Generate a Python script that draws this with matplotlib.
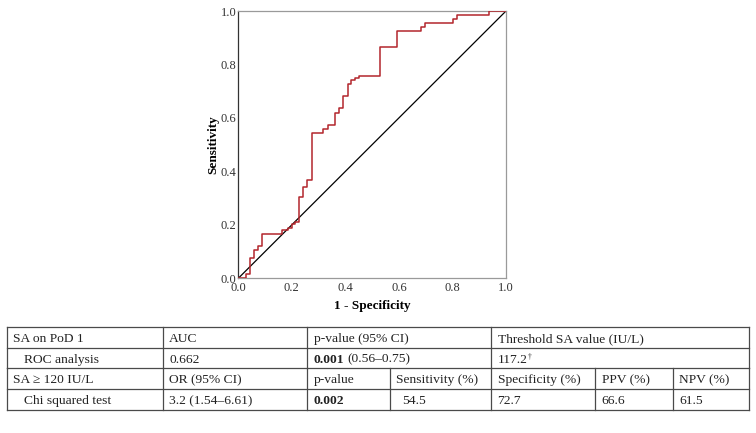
#!/usr/bin/env python3

import matplotlib
matplotlib.rcParams.update(
    {
        "backend" : "Agg",
        "font.family" : ["Liberation Serif", "DejaVu Serif"],
    }
)
import matplotlib.pyplot

# ROC curve corners (1 - specificity, sensitivity), drawn as a post step ...
fpr = [0.0, 0.029, 0.044, 0.059, 0.073, 0.088, 0.164, 0.187, 0.200, 0.212,
       0.227, 0.242, 0.256, 0.274, 0.318, 0.336, 0.362, 0.377, 0.392, 0.408,
       0.422, 0.437, 0.452, 0.530, 0.592, 0.681, 0.697, 0.803, 0.818, 0.938,
       1.0]
tpr = [0.0, 0.015, 0.075, 0.106, 0.121, 0.167, 0.181, 0.190, 0.202, 0.212,
       0.305, 0.340, 0.366, 0.545, 0.560, 0.575, 0.620, 0.636, 0.681, 0.726,
       0.741, 0.749, 0.757, 0.864, 0.924, 0.939, 0.954, 0.970, 0.985, 1.000,
       1.0]
ticks = [0.0, 0.2, 0.4, 0.6, 0.8, 1.0]

# Table contents ...
row1 = ["SA on PoD 1", "AUC", "p-value (95% CI)", "Threshold SA value (IU/L)"]
row2 = ["ROC analysis", "0.662", ("0.001", "(0.56\u20130.75)"), "117.2"]
row3 = ["SA \u2265 120 IU/L", "OR (95% CI)", "p-value", "Sensitivity (%)",
        "Specificity (%)", "PPV (%)", "NPV (%)"]
row4 = ["Chi squared test", "3.2 (1.54\u20136.61)", "0.002", "54.5", "72.7",
        "66.6", "61.5"]

# Create figure ...
W, H = 756, 433
fg = matplotlib.pyplot.figure(figsize = (W / 100, H / 100), dpi = 100)

# Create ROC axis ...
x0, x1, y0, y1 = 238.3, 506.0, 11.0, 278.3
ax = fg.add_axes([x0 / W, 1 - y1 / H, (x1 - x0) / W, (y1 - y0) / H])
ax.step(fpr, tpr, where = "post", color = "#b3262c", linewidth = 1.1,
        zorder = 3)
ax.plot([0, 1], [0, 1], color = "black", linewidth = 0.9, zorder = 2)
ax.set_xlim(0, 1)
ax.set_ylim(0, 1)
ax.set_xticks(ticks)
ax.set_yticks(ticks)
ax.set_xticklabels([f"{t:.1f}" for t in ticks])
ax.set_yticklabels([f"{t:.1f}" for t in ticks])
ax.tick_params(axis = "x", length = 0, labelsize = 9, pad = 2.5,
               colors = "#333333")
ax.tick_params(axis = "y", length = 0, labelsize = 9, pad = 1.5,
               colors = "#333333")
for side in ["top", "right", "bottom"]:
    ax.spines[side].set_color("#9a9a9a")
ax.spines["left"].set_color("#333333")
for sp in ax.spines.values():
    sp.set_linewidth(0.9)
ax.set_xlabel("1 - Specificity", fontweight = "bold", fontsize = 9.5,
              labelpad = 4.5)
ax.set_ylabel("Sensitivity", fontweight = "bold", fontsize = 9.5,
              labelpad = 0.5)

# Create table overlay in pixel coordinates ...
tb = fg.add_axes([0, 0, 1, 1])
tb.set_xlim(0, W)
tb.set_ylim(H, 0)
tb.axis("off")

cols = [6.7, 162.7, 307.3, 390.0, 491.0, 595.0, 672.7, 749.0]
rows = [327.3, 348.3, 368.3, 389.0, 410.0]
lc = "#4a4a4a"
lw = 0.9

# Horizontal lines ...
for yy in rows:
    tb.plot([cols[0], cols[-1]], [yy, yy], color = lc, linewidth = lw)
# Vertical lines of the top two rows ...
for xx in [cols[0], cols[1], cols[2], cols[4], cols[7]]:
    tb.plot([xx, xx], [rows[0], rows[2]], color = lc, linewidth = lw)
# Vertical lines of the bottom two rows ...
for xx in cols:
    tb.plot([xx, xx], [rows[2], rows[4]], color = lc, linewidth = lw)

fs = 9.7
tc = "#222222"
pad = 6.5


def put(x, y, s, bold = False, size = fs):
    return tb.text(x, y, s, fontsize = size, color = tc, va = "baseline",
                   ha = "left", fontweight = "bold" if bold else "normal")


def right_edge(t):
    # Find where a drawn text ends, in pixel coordinates ...
    fg.canvas.draw()
    bb = t.get_window_extent()
    return bb.x1 * W / fg.bbox.width


# Baselines sit a little below the middle of each row ...
ym = [(rows[i] + rows[i + 1]) / 2 + 4.3 for i in range(4)]

# Row 1 ...
for xx, s in zip([cols[0], cols[1], cols[2], cols[4]], row1):
    put(xx + pad, ym[0], s)

# Row 2 ...
put(cols[0] + pad + 11, ym[1], row2[0])
put(cols[1] + pad, ym[1], row2[1])
t = put(cols[2] + pad, ym[1], row2[2][0], bold = True)
put(right_edge(t) + 3.0, ym[1], row2[2][1])
t = put(cols[4] + pad, ym[1], row2[3])
put(right_edge(t) + 0.8, ym[1] - 4.0, "\u2020", size = 5.5)

# Row 3 ...
for i, s in enumerate(row3):
    put(cols[i] + pad, ym[2], s)

# Row 4 ...
for i, s in enumerate(row4):
    xx = cols[i] + pad
    if i == 0:
        xx += 11
    elif i == 3:
        xx += 6
    put(xx, ym[3], s, bold = (i == 2))

# Save figure ...
fg.savefig("out.png", dpi = 100)
matplotlib.pyplot.close(fg)
